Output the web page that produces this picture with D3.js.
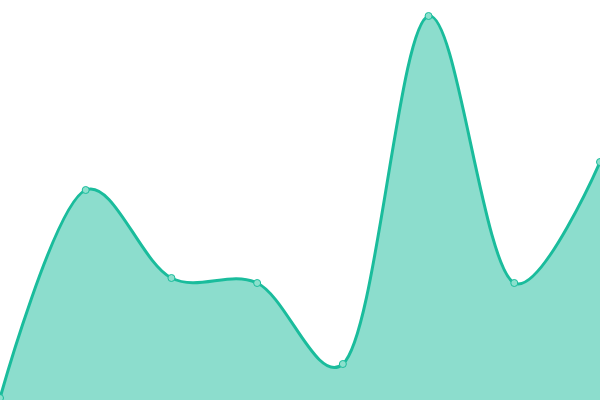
<!DOCTYPE html>
<html>
    <head>
        <meta charset="utf-8">
        <style>
            body { margin: 0; background: #fff; }
            svg { display: block; overflow: hidden; }
        </style>
    </head>
    <body>
        <svg width="600" height="400"></svg>

        <script src="https://d3js.org/d3.v7.min.js"></script>
        <script>
            let width = 600
            let height = 400

            // one value per point
            let labels = ["1", "2", "3", "4", "5", "6", "7", "8"]
            let values = [2, 210, 122, 117, 36, 384, 117, 238]

            let data = labels.map((d, i) => ({label: d, value: values[i]}))

            let svg = d3.select("svg")

            let x = d3.scalePoint()
                .domain(labels)
                .range([0, width])

            let y = d3.scaleLinear()
                .domain([0, 400])
                .range([height, 0])

            let curve = d3.curveCatmullRom.alpha(0.25)

            let area = d3.area()
                .x(d => x(d.label))
                .y0(height)
                .y1(d => y(d.value))
                .curve(curve)

            let line = d3.line()
                .x(d => x(d.label))
                .y(d => y(d.value))
                .curve(curve)

            svg.append("path")
                .datum(data)
                .attr("fill", "#1abc9c")
                .attr("fill-opacity", 0.5)
                .attr("d", area)

            svg.append("path")
                .datum(data)
                .attr("fill", "none")
                .attr("stroke", "#1abc9c")
                .attr("stroke-width", 3)
                .attr("d", line)

            svg.selectAll(".dot")
                .data(data)
                .join("circle")
                .attr("class", "dot")
                .attr("cx", d => x(d.label))
                .attr("cy", d => y(d.value))
                .attr("r", 3.5)
                .attr("fill", "#8ce0cd")
                .attr("stroke", "#1abc9c")
                .attr("stroke-width", 1)
        </script>
    </body>
</html>
